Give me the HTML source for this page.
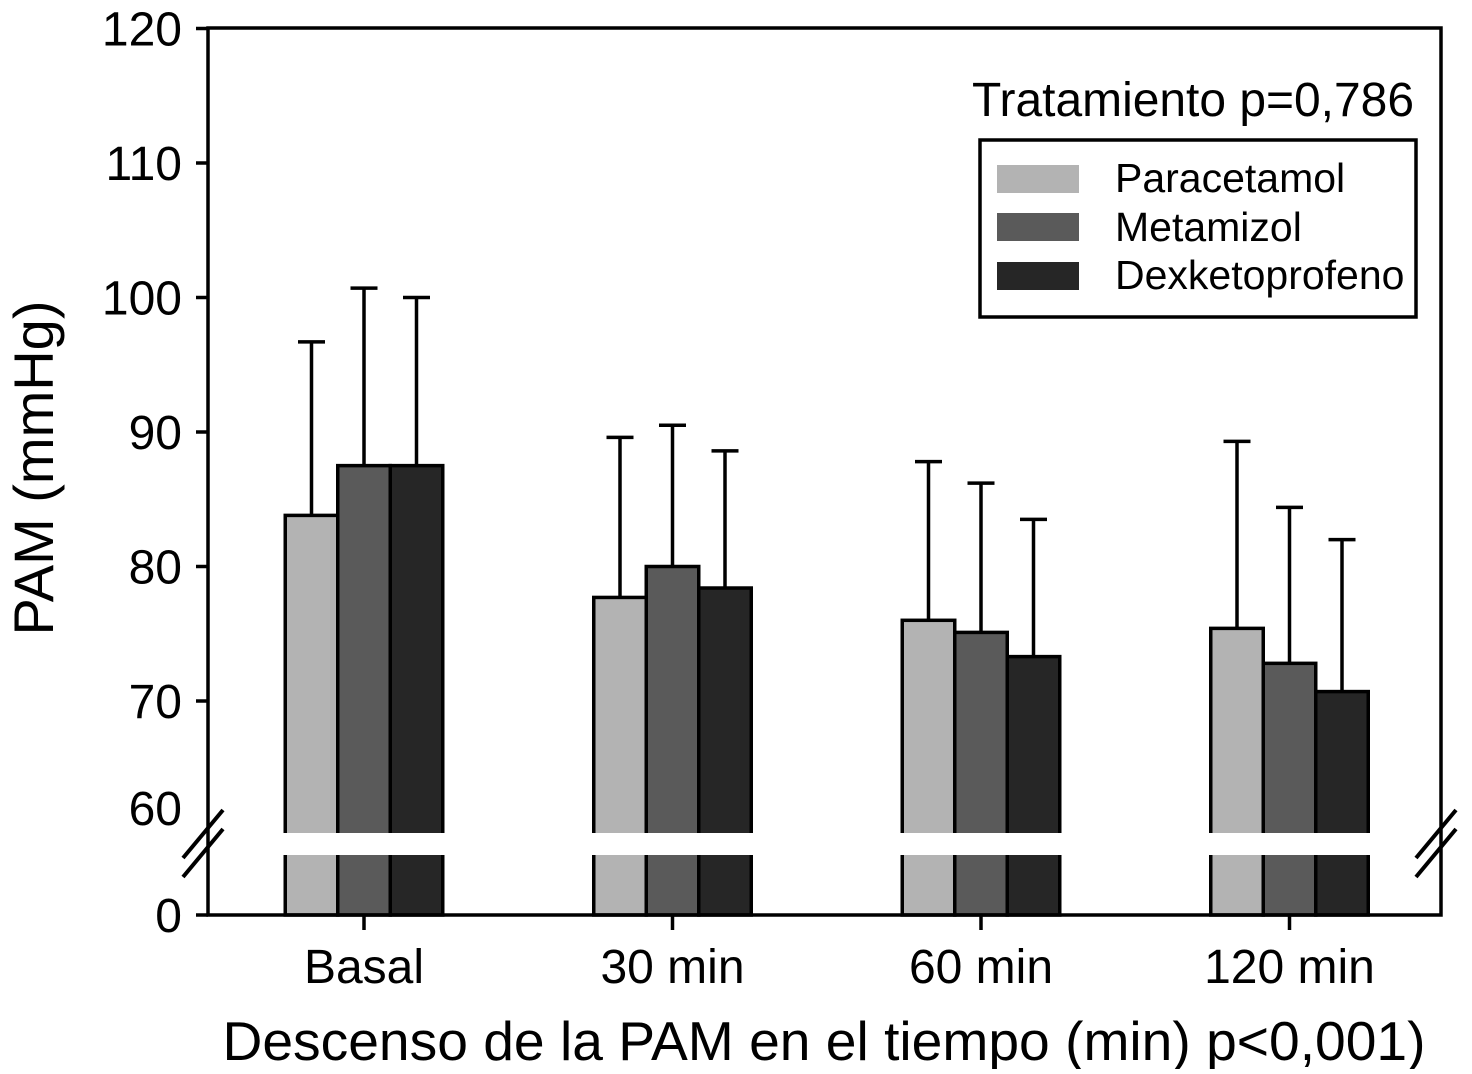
<!DOCTYPE html>
<html><head><meta charset="utf-8"><style>
html,body{margin:0;padding:0;background:#fff}
svg text{font-family:"Liberation Sans",Arial,sans-serif;fill:#000}
</style></head><body>
<svg id="chart" width="1472" height="1069" viewBox="0 0 1472 1069" xmlns="http://www.w3.org/2000/svg">
<g id="bars"></g>
<g id="axes"></g>
<text x="972" y="116" font-size="48" textLength="442" lengthAdjust="spacingAndGlyphs">Tratamiento p=0,786</text>
<g>
<rect x="980" y="140" width="436" height="177" fill="#fff" stroke="#000" stroke-width="3.5"/>
<rect x="997" y="165" width="82" height="28" fill="#b3b3b3"/>
<text x="1115" y="192" font-size="41">Paracetamol</text>
<rect x="997" y="213" width="82" height="28" fill="#5a5a5a"/>
<text x="1115" y="241" font-size="41">Metamizol</text>
<rect x="997" y="262" width="82" height="28" fill="#262626"/>
<text x="1115" y="289" font-size="41">Dexketoprofeno</text>
</g>
<text transform="translate(53,468) rotate(-90)" text-anchor="middle" font-size="56">PAM (mmHg)</text>
<text x="824" y="1060" text-anchor="middle" font-size="55" textLength="1203" lengthAdjust="spacingAndGlyphs">Descenso de la PAM en el tiempo (min) p&lt;0,001)</text>
</svg>
<script>
const categories = ["Basal", "30 min", "60 min", "120 min"];
const seriesNames = ["Paracetamol", "Metamizol", "Dexketoprofeno"];
const paracetamol = [83.8, 77.7, 76.0, 75.4];
const metamizol = [87.5, 80.0, 75.1, 72.8];
const dexketoprofeno = [87.5, 78.4, 73.3, 70.7];
const errParacetamol = [96.7, 89.6, 87.8, 89.3];
const errMetamizol = [100.7, 90.5, 86.2, 84.4];
const errDexketoprofeno = [100.0, 88.6, 83.5, 82.0];
const yTicks = [70, 80, 90, 100, 110, 120];
const yTickLabels = ["70", "80", "90", "100", "110", "120"];

const NS = "http://www.w3.org/2000/svg";
const colors = ["#b3b3b3", "#5a5a5a", "#262626"];
const L = 208, R = 1441, T = 28, B = 915;
function yScale(v){ return 701 - (v - 70) * 13.45; }
function xCenter(i){ return 364 + i * 308.5; }
const bw = 52.5;
function mk(tag, attrs, parent){ const e = document.createElementNS(NS, tag); for (const k in attrs) e.setAttribute(k, attrs[k]); parent.appendChild(e); return e; }
const bars = document.getElementById('bars');
const axes = document.getElementById('axes');
const vals = [paracetamol, metamizol, dexketoprofeno];
const errs = [errParacetamol, errMetamizol, errDexketoprofeno];
categories.forEach((c, i) => {
  vals.forEach((s, j) => {
    const x = xCenter(i) + (j - 1) * bw - bw / 2;
    const yt = yScale(s[i]);
    const cx = x + bw / 2;
    const ye = yScale(errs[j][i]);
    const el = mk('line', {x1: cx, x2: cx, y1: ye, y2: yt, stroke: '#000', 'stroke-width': 3.5}, bars);
    
    
    const cap = mk('line', {x1: cx - 13.5, x2: cx + 13.5, y1: ye, y2: ye, stroke: '#000', 'stroke-width': 3.5}, bars);
    
    
    const r = mk('rect', {x: x, y: yt, width: bw, height: B - yt, fill: colors[j], stroke: '#000', 'stroke-width': 3.5}, bars);
    
    
  });
  const g = mk('rect', {x: xCenter(i) - 1.5 * bw - 4, y: 833, width: 3 * bw + 8, height: 22, fill: '#fff'}, bars);
  
  
  const t = mk('line', {x1: xCenter(i), x2: xCenter(i), y1: B, y2: B + 15, stroke: '#000', 'stroke-width': 3.5}, axes);
  
  
  const tl = mk('text', {x: xCenter(i), y: 983, 'text-anchor': 'middle', 'font-size': 48}, axes);
  tl.textContent = c;
  
  
});
const frame = mk('path', {d: `M${L},${T} H${R} V${B} H${L} Z`, fill: 'none', stroke: '#000', 'stroke-width': 3.5}, axes);


yTicks.forEach((v, k) => {
  const y = yScale(v);
  const t = mk('line', {x1: L - 12, x2: L, y1: y, y2: y, stroke: '#000', 'stroke-width': 3.5}, axes);
  
  
  const tl = mk('text', {x: 182, y: y + 17, 'text-anchor': 'end', 'font-size': 48}, axes);
  tl.textContent = yTickLabels[k];
  
  
});
const z = mk('line', {x1: L - 12, x2: L, y1: B, y2: B, stroke: '#000', 'stroke-width': 3.5}, axes);


const zl = mk('text', {x: 182, y: B + 17, 'text-anchor': 'end', 'font-size': 48}, axes);
zl.textContent = "0";


const sl = mk('text', {x: 182, y: 825, 'text-anchor': 'end', 'font-size': 48}, axes);
sl.textContent = "60";


[L, R].forEach(ax => {
  [0, 19].forEach(d => {
    const s = mk('line', {x1: ax - 25, x2: ax + 15, y1: 858 + d, y2: 810 + d, stroke: '#000', 'stroke-width': 4}, axes);
    
    
  });
});
</script>
</body></html>
